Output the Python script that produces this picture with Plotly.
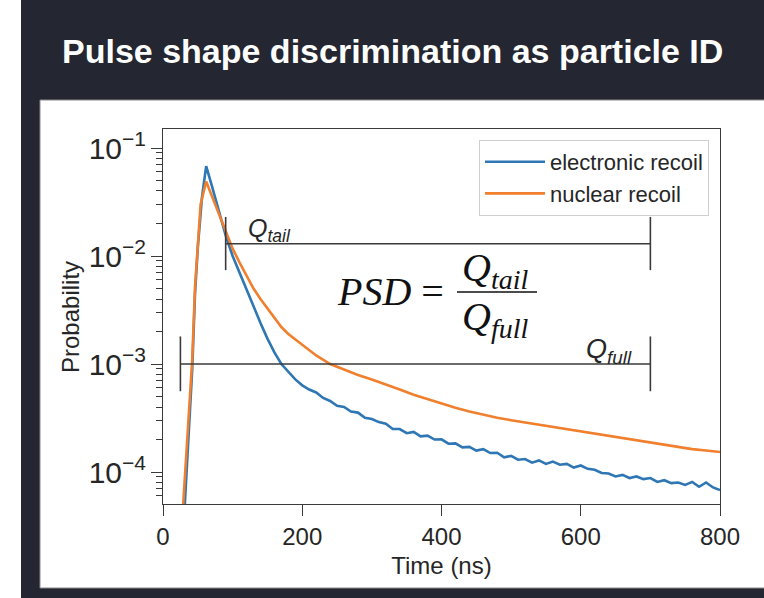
import plotly.graph_objects as go

# ---------------- data ----------------
er_time = [30, 42, 46, 50, 56, 62, 70, 80, 90, 100, 110, 120, 130, 140, 150, 160, 170, 180, 190,
           200, 210, 220, 230, 240, 250, 260, 270, 280, 290, 300, 310, 320, 330, 340, 350, 360, 370,
           380, 390, 400, 410, 420, 430, 440, 450, 460, 470, 480, 490, 500, 510, 520, 530, 540, 550,
           560, 570, 580, 590, 600, 610, 620, 630, 640, 650, 660, 670, 680, 690, 700, 710, 720, 730,
           740, 750, 760, 770, 780, 790, 800]
er_prob = [3.5e-5, 9.0e-4, 4.5e-3, 1.2e-2, 3.5e-2, 6.8e-2, 4.5e-2, 2.7e-2, 1.55e-2, 1.0e-2, 7.0e-3,
           4.8e-3, 3.3e-3, 2.4e-3, 1.72e-3, 1.28e-3, 1.0e-3, 8.4e-4, 7.2e-4,
           6.35e-4, 5.8e-4, 5.45e-4, 4.85e-4, 4.55e-4, 4.1e-4, 4.0e-4, 3.63e-4, 3.55e-4, 3.18e-4,
           3.1e-4, 2.9e-4, 2.8e-4, 2.5e-4, 2.5e-4, 2.29e-4, 2.35e-4, 2.14e-4, 2.17e-4, 2.0e-4,
           2.01e-4, 1.83e-4, 1.84e-4, 1.69e-4, 1.71e-4, 1.58e-4, 1.63e-4, 1.5e-4, 1.51e-4, 1.37e-4,
           1.41e-4, 1.3e-4, 1.32e-4, 1.22e-4, 1.28e-4, 1.19e-4, 1.25e-4, 1.17e-4, 1.19e-4, 1.1e-4,
           1.15e-4, 1.07e-4, 1.05e-4, 9.8e-5, 9.7e-5, 9.1e-5, 9.4e-5, 8.8e-5, 9.1e-5, 8.6e-5,
           8.8e-5, 8.1e-5, 8.4e-5, 7.9e-5, 8.0e-5, 7.6e-5, 8.1e-5, 7.3e-5, 8.0e-5, 7.2e-5, 6.8e-5]

nr_time = [28, 42, 46, 50, 54, 62, 70, 80, 90, 100, 110, 120, 130, 140, 150, 160, 170, 180, 190,
           200, 220, 240, 260, 280, 300, 320, 340, 360, 380, 400, 420, 440, 460, 480, 500, 520,
           540, 560, 580, 600, 620, 640, 660, 680, 700, 720, 740, 760, 780, 800]
nr_prob = [4.0e-5, 1.1e-3, 5.2e-3, 1.4e-2, 3.0e-2, 4.9e-2, 3.6e-2, 2.5e-2, 1.65e-2, 1.17e-2, 8.7e-3,
           6.6e-3, 5.0e-3, 4.0e-3, 3.25e-3, 2.66e-3, 2.2e-3, 1.9e-3, 1.68e-3,
           1.51e-3, 1.2e-3, 1.0e-3, 8.9e-4, 7.9e-4, 7.2e-4, 6.5e-4, 5.8e-4, 5.2e-4, 4.72e-4, 4.32e-4,
           3.94e-4, 3.63e-4, 3.39e-4, 3.18e-4, 3.02e-4, 2.88e-4, 2.75e-4, 2.63e-4, 2.51e-4, 2.4e-4,
           2.29e-4, 2.18e-4, 2.07e-4, 1.97e-4, 1.87e-4, 1.78e-4, 1.7e-4, 1.63e-4, 1.58e-4, 1.53e-4]

series_names = ["electronic recoil", "nuclear recoil"]
series_colors = ["#2f77b4", "#f07f2e"]

# integration windows (ns) and their marker levels
q_tail_window = [90, 700]
q_tail_level = 0.013
q_tail_cap = [0.0074, 0.023]
q_full_window = [25, 700]
q_full_level = 1e-3
q_full_cap = [5.6e-4, 1.8e-3]

x_ticks = [0, 200, 400, 600, 800]

title_text = "Pulse shape discrimination as particle ID"

# ---------------- figure ----------------
W, H = 764, 598
ML, MR, MT, MB = 163, 44, 129, 94
PW, PH = W - ML - MR, H - MT - MB


def px(xp):
    return (xp - ML) / PW


def py(yp):
    return (H - MB - yp) / PH


DARK = "#242632"
INK = "#262626"
AX = "#3a3a3a"

fig = go.Figure()

for t, p, name, col in [(er_time, er_prob, series_names[0], series_colors[0]),
                        (nr_time, nr_prob, series_names[1], series_colors[1])]:
    fig.add_trace(go.Scatter(x=t, y=p, mode="lines", name=name,
                             line=dict(color=col, width=2.6), showlegend=True))

# bracket lines for Q_tail and Q_full
for win, lev, cap in [(q_tail_window, q_tail_level, q_tail_cap),
                      (q_full_window, q_full_level, q_full_cap)]:
    fig.add_trace(go.Scatter(
        x=[win[0], win[0], None, win[0], win[1], None, win[1], win[1]],
        y=[cap[0], cap[1], None, lev, lev, None, cap[0], cap[1]],
        mode="lines", line=dict(color=AX, width=1.6), showlegend=False, hoverinfo="skip"))

shapes = [
    # white strip at the far left
    dict(type="rect", xref="paper", yref="paper", x0=px(-2), x1=px(21), y0=py(H + 2), y1=py(-2),
         fillcolor="white", line=dict(width=0), layer="below"),
    # white slide panel
    dict(type="rect", xref="paper", yref="paper", x0=px(40), x1=px(W + 2), y0=py(588), y1=py(100),
         fillcolor="white", line=dict(width=1, color="#8a8a8a"), layer="below"),
    # fraction bar
    dict(type="line", xref="paper", yref="paper", x0=px(457), x1=px(537), y0=py(292), y1=py(292),
         line=dict(color="#111111", width=1.6)),
]

serif = "Liberation Serif"
annotations = [
    dict(text="<b>" + title_text + "</b>", xref="paper", yref="paper", x=px(392), y=py(51),
         showarrow=False, xanchor="center", yanchor="middle",
         font=dict(family="Liberation Sans", size=34, color="white")),
    dict(text="<i>Q</i><sub><i>tail</i></sub>", xref="paper", yref="paper", x=px(246), y=py(230),
         showarrow=False, xanchor="left", yanchor="middle",
         font=dict(family="Liberation Sans", size=25, color=INK)),
    dict(text="<i>Q</i><sub><i>full</i></sub>", xref="paper", yref="paper", x=px(634), y=py(351),
         showarrow=False, xanchor="right", yanchor="middle",
         font=dict(family="Liberation Sans", size=27, color=INK)),
    dict(text="<i>PSD</i> =", xref="paper", yref="paper", x=px(446), y=py(291),
         showarrow=False, xanchor="right", yanchor="middle",
         font=dict(family=serif, size=40, color="#111111")),
    dict(text="<i>Q</i><sub><i>tail</i></sub>", xref="paper", yref="paper", x=px(495), y=py(270),
         showarrow=False, xanchor="center", yanchor="middle",
         font=dict(family=serif, size=40, color="#111111")),
    dict(text="<i>Q</i><sub><i>full</i></sub>", xref="paper", yref="paper", x=px(495), y=py(319),
         showarrow=False, xanchor="center", yanchor="middle",
         font=dict(family=serif, size=40, color="#111111")),
    dict(text="Probability", xref="paper", yref="paper", x=px(70), y=py(317),
         showarrow=False, xanchor="center", yanchor="middle", textangle=-90,
         font=dict(family="Liberation Sans", size=24, color=INK)),
]

fig.update_layout(
    width=W, height=H,
    margin=dict(l=ML, r=MR, t=MT, b=MB),
    paper_bgcolor=DARK, plot_bgcolor="white",
    shapes=shapes, annotations=annotations,
    font=dict(family="Liberation Sans", color=INK, size=24),
    legend=dict(x=px(709), y=py(140), xanchor="right", yanchor="top",
                bgcolor="white", bordercolor="#cfcfcf", borderwidth=1,
                font=dict(size=22, color=INK), itemwidth=60,
                tracegroupgap=0),
    xaxis=dict(range=[0, 800], tickvals=x_ticks, ticks="outside", ticklen=11, tickwidth=1.4,
               tickcolor=AX, showline=True, linecolor=AX, linewidth=1.4, mirror=True,
               showgrid=False, zeroline=False, tickfont=dict(size=24, color=INK),
               title=dict(text="Time (ns)", font=dict(size=24, color=INK), standoff=8)),
    yaxis=dict(type="log", range=[-4.296, -0.824], dtick=1, exponentformat="power",
               ticks="outside", ticklen=11, tickwidth=1.4, tickcolor=AX,
               minor=dict(ticks="outside", ticklen=6, tickwidth=1.1, tickcolor=AX, dtick="D1",
                          showgrid=False),
               showline=True, linecolor=AX, linewidth=1.4, mirror=True,
               showgrid=False, zeroline=False, tickfont=dict(size=24, color=INK)),
)

fig.write_html("out.html")
